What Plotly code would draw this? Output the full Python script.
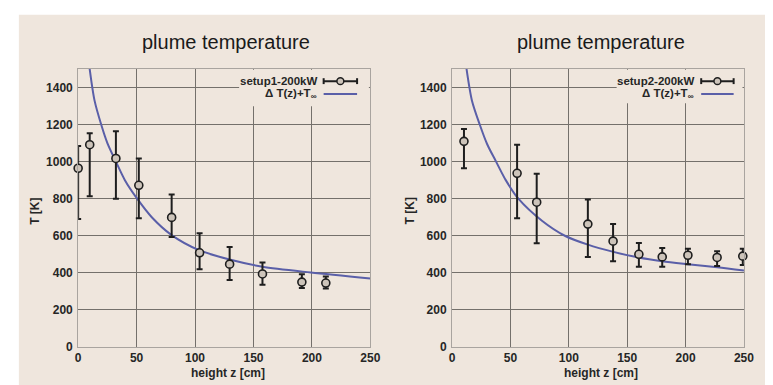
import plotly.graph_objects as go

# ---------------- data ----------------
z1 = [0, 9.9, 32.3, 51.9, 80, 103.9, 129.6, 157.7, 191.4, 211.9]
T1 = [964, 1091, 1017, 872, 699, 508, 447, 394, 350, 345]
T1_lo = [690, 813, 800, 695, 593, 419, 362, 336, 318, 315]
T1_hi = [1084, 1153, 1163, 1017, 822, 614, 539, 456, 393, 380]

z2 = [10.2, 55.7, 72.5, 116.3, 137.9, 160, 180, 202, 227, 249]
T2 = [1109, 937, 781, 663, 571, 500, 486, 495, 483, 490]
T2_lo = [964, 695, 560, 486, 463, 433, 433, 446, 437, 442]
T2_hi = [1176, 1091, 934, 796, 663, 561, 534, 530, 516, 530]

# model curve dT(z)+T_inf
zc1 = [9.85, 14, 19.7, 25, 32.3, 40, 50.5, 63, 79.7, 103.9, 129.6, 157.7, 199, 250]
Tc1 = [1500, 1330, 1200, 1100, 1000, 900, 800, 700, 605, 521, 472, 433, 402, 370]
zc2 = [12.4, 17, 23.7, 30, 37.7, 46, 56.8, 77, 96.6, 116.3, 138.2, 159.8, 180, 201.9, 227.2, 250]
Tc2 = [1500, 1330, 1200, 1095, 1000, 900, 800, 681, 600, 552, 513, 483, 463, 447, 430, 412]

titles = ["plume temperature", "plume temperature"]
series_names = ["setup1-200kW", "setup2-200kW"]
x_ticks = [0, 50, 100, 150, 200, 250]
y_ticks = [0, 200, 400, 600, 800, 1000, 1200, 1400]

# ---------------- styling ----------------
W, H = 773, 385
BEIGE = "#efe6dd"
CURVE = "#5a5fa8"
GRID = "#74706b"
FONT = "Liberation Sans"
MFILL = "#cdc4ba"

def px(x):
    return x / W

def py(y):
    return (H - y) / H

panels = [
    dict(x0=68.3, x1=365.5),
    dict(x0=448.6, x1=745.5),
]
y_top, y_bot = 62.0, 345.3

fig = go.Figure()

datasets = [(z1, T1, T1_lo, T1_hi, zc1, Tc1), (z2, T2, T2_lo, T2_hi, zc2, Tc2)]
for i, (z, T, lo, hi, zc, Tc) in enumerate(datasets):
    xa = "x" if i == 0 else "x2"
    ya = "y" if i == 0 else "y2"
    fig.add_trace(go.Scatter(
        x=zc, y=Tc, mode="lines", xaxis=xa, yaxis=ya,
        line=dict(color=CURVE, width=2, shape="spline", smoothing=0.8),
        showlegend=False, hoverinfo="skip"))
    fig.add_trace(go.Scatter(
        x=z, y=T, mode="markers", xaxis=xa, yaxis=ya, cliponaxis=False,
        marker=dict(symbol="circle", size=8, color=MFILL,
                    line=dict(color="#1e1e1e", width=1.6)),
        error_y=dict(type="data", symmetric=False,
                     array=[h - t for h, t in zip(hi, T)],
                     arrayminus=[t - l for t, l in zip(T, lo)],
                     color="#1e1e1e", thickness=2, width=3),
        showlegend=False))

axis_common = dict(
    showgrid=True, gridcolor=GRID, gridwidth=1, zeroline=False,
    showline=True, linecolor="#a9a49f", linewidth=1, mirror=True,
    ticks="", tickfont=dict(family=FONT, size=12, color="#262626", weight="bold"),
)

layout = dict(
    width=W, height=H, margin=dict(l=0, r=0, t=0, b=0),
    paper_bgcolor="white", plot_bgcolor="rgba(0,0,0,0)",
    showlegend=False,
)
for i, p in enumerate(panels):
    sx = "" if i == 0 else "2"
    layout["xaxis" + sx] = dict(
        axis_common, domain=[px(p["x0"]), px(p["x1"])], range=[0, 250],
        tickvals=x_ticks, anchor="y" + sx)
    layout["yaxis" + sx] = dict(
        axis_common, domain=[py(y_bot), py(y_top)], range=[0, 1500],
        tickvals=y_ticks, anchor="x" + sx, ticklabelstandoff=2)
fig.update_layout(**layout)

shapes = [dict(type="rect", xref="paper", yref="paper", x0=px(8), x1=1, y0=0, y1=py(7),
               fillcolor=BEIGE, line=dict(width=0), layer="below")]
annotations = []

legend_geo = [
    dict(bx0=232, bx1=364, by1=100, tx=313, sx0=318, sx1=352),
    dict(bx0=616, bx1=744, by1=97, tx=697, sx0=702, sx1=735),
]
title_cx = [219, 600]
axis_cx = [221, 600]
ytitle_cx = [25, 406]

for i, g in enumerate(legend_geo):
    # opaque legend box
    shapes.append(dict(type="rect", xref="paper", yref="paper",
                       x0=px(g["bx0"]), x1=px(g["bx1"]), y0=py(g["by1"]), y1=py(y_top + 1),
                       fillcolor=BEIGE, line=dict(width=0), layer="above"))
    r1, r2 = 74.5, 87.5
    # error bar sample
    shapes.append(dict(type="line", xref="paper", yref="paper",
                       x0=px(g["sx0"]), x1=px(g["sx1"]), y0=py(r1), y1=py(r1),
                       line=dict(color="#1e1e1e", width=2), layer="above"))
    for sx in (g["sx0"], g["sx1"]):
        shapes.append(dict(type="line", xref="paper", yref="paper",
                           x0=px(sx), x1=px(sx), y0=py(r1 - 3), y1=py(r1 + 3),
                           line=dict(color="#1e1e1e", width=2), layer="above"))
    mx = (g["sx0"] + g["sx1"]) / 2
    shapes.append(dict(type="circle", xref="paper", yref="paper",
                       x0=px(mx - 3.5), x1=px(mx + 3.5), y0=py(r1 + 3.5), y1=py(r1 - 3.5),
                       fillcolor=MFILL, line=dict(color="#1e1e1e", width=1.5), layer="above"))
    # curve sample
    shapes.append(dict(type="line", xref="paper", yref="paper",
                       x0=px(g["sx0"]), x1=px(g["sx1"]), y0=py(r2), y1=py(r2),
                       line=dict(color=CURVE, width=2), layer="above"))
    annotations.append(dict(xref="paper", yref="paper", x=px(g["tx"]), y=py(r1),
                            xanchor="right", yanchor="middle", showarrow=False,
                            text=series_names[i],
                            font=dict(family=FONT, size=11.5, color="#262626", weight="bold")))
    annotations.append(dict(xref="paper", yref="paper", x=px(g["tx"]), y=py(r2),
                            xanchor="right", yanchor="middle", showarrow=False,
                            text="Δ T(z)+T<sub>∞</sub>",
                            font=dict(family=FONT, size=11.5, color="#262626", weight="bold")))
    # titles
    annotations.append(dict(xref="paper", yref="paper", x=px(title_cx[i]), y=py(35),
                            xanchor="center", yanchor="middle", showarrow=False,
                            text=titles[i], font=dict(family=FONT, size=20, color="#1a1a1a")))
    annotations.append(dict(xref="paper", yref="paper", x=px(axis_cx[i]), y=py(372),
                            xanchor="center", yanchor="middle", showarrow=False,
                            text="height z [cm]",
                            font=dict(family=FONT, size=12, color="#262626", weight="bold")))
    annotations.append(dict(xref="paper", yref="paper", x=px(ytitle_cx[i]), y=py(207),
                            xanchor="center", yanchor="middle", showarrow=False, textangle=-90,
                            text="T [K]",
                            font=dict(family=FONT, size=12, color="#262626", weight="bold")))

fig.update_layout(shapes=shapes, annotations=annotations)
fig.write_html("out.html")
